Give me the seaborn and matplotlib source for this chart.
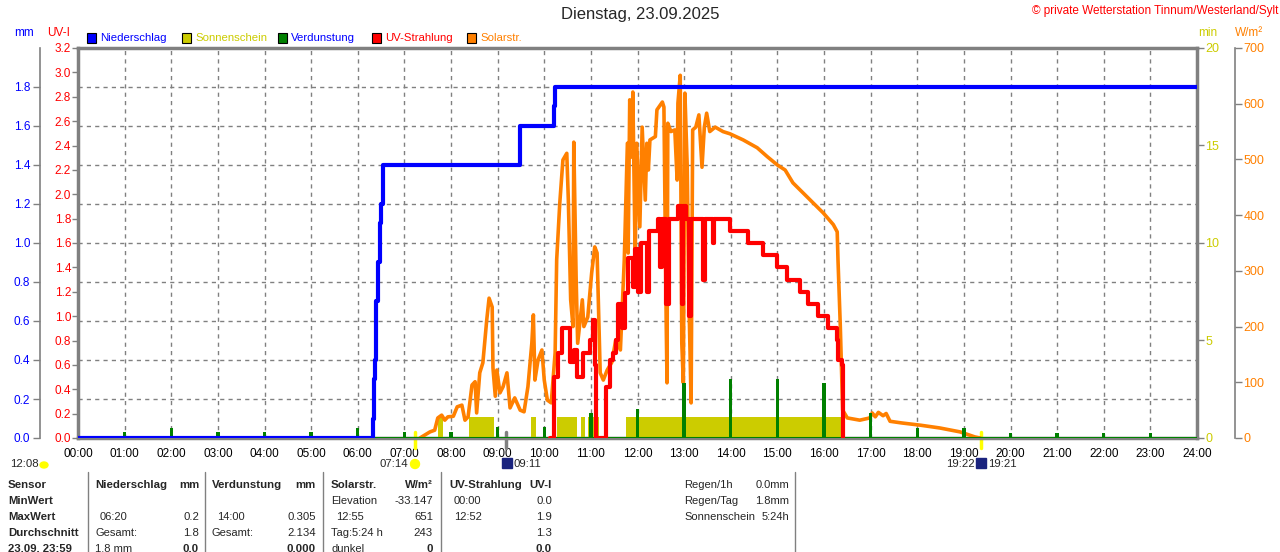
import numpy as np
import matplotlib
matplotlib.use("Agg")
import matplotlib.pyplot as plt
import matplotlib.patches as mpatches
from matplotlib.transforms import blended_transform_factory
import seaborn as sns

# ---- Messwerte 23.09.2025 ----
# Niederschlag (Tagessumme, mm)
rain_time = ["00:00", "06:19", "06:21", "06:22", "06:24", "06:26", "06:28", "06:30",
             "06:33", "09:29", "10:12", "10:14", "24:00"]
rain_mm = [0.0, 0.1, 0.3, 0.4, 0.7, 0.9, 1.1, 1.2, 1.4, 1.6, 1.7, 1.8, 1.8]

# Sonnenschein (min), Abschnitte mit Sonne
sun_start = ["07:43", "08:23", "09:43", "10:16", "10:47", "10:56", "11:45"]
sun_end = ["07:50", "08:55", "09:49", "10:42", "10:52", "11:10", "16:23"]
sun_min = [1.1, 1.1, 1.1, 1.1, 1.1, 1.1, 1.1]

# Verdunstung (mm) je Stunde
evap_hour = list(range(1, 24))
evap_mm = [0.03, 0.05, 0.03, 0.03, 0.03, 0.05, 0.03, 0.03, 0.055, 0.055, 0.13, 0.15,
           0.28, 0.305, 0.30, 0.28, 0.13, 0.05, 0.05, 0.026, 0.026, 0.026, 0.026]

# UV-Strahlung (UV-I), Zeit in Minuten
uv_min = [608, 612, 618, 623, 630, 633, 638, 642, 646, 650, 655, 659, 663, 665, 667,
          678, 680, 685, 688, 692, 695, 700, 704, 708, 714, 717, 721, 725, 730, 732,
          735, 745, 747, 749, 752, 757, 760, 771, 772, 776, 777, 779, 782, 786, 789,
          803, 804, 807, 816, 817, 819, 838, 839, 861, 862, 880, 882, 897, 900, 910,
          912, 927, 929, 938, 939, 951, 952, 964, 965, 974, 977, 978, 983, 984]
uv_val = [0, 0.5, 0.7, 0.9, 0.9, 0.62, 0.72, 0.5, 0.5, 0.7, 0.7, 0.8, 0.97, 0.6, 0,
          0, 0.42, 0.64, 0.7, 0.8, 1.1, 0.9, 1.19, 1.48, 1.24, 1.55, 1.2, 1.6, 1.6, 1.2,
          1.7, 1.7, 1.8, 1.4, 1.8, 1.1, 1.8, 1.8, 1.9, 1.9, 1.1, 1.9, 1.8, 1.0, 1.8,
          1.8, 1.3, 1.8, 1.8, 1.6, 1.8, 1.8, 1.7, 1.7, 1.6, 1.6, 1.5, 1.5, 1.4, 1.4,
          1.3, 1.3, 1.2, 1.2, 1.1, 1.1, 1.0, 1.0, 0.9, 0.9, 0.8, 0.64, 0.6, 0]

# Solarstrahlung (W/m²), Zeit in Minuten
solar_min = [440, 453, 459, 463, 468, 472, 476, 483, 488, 494, 498, 502, 507, 511, 513,
             517, 521, 526, 529, 533, 534, 537, 539, 543, 547, 552, 556, 562, 569, 574,
             579, 584, 586, 588, 592, 597, 600, 604, 609, 614, 616, 620, 624, 629, 631,
             634, 637, 638, 641, 643, 649, 651, 656, 661, 665, 668, 672, 676, 681, 687,
             692, 698, 703, 707, 708, 710, 713, 714, 717, 719, 723, 726, 730, 732, 734,
             736, 743, 745, 752, 754, 757, 758, 759, 763, 768, 771, 772, 775, 777, 779,
             781, 784, 786, 789, 791, 795, 799, 803, 806, 809, 813, 820, 830, 839, 856,
             874, 887, 900, 910, 920, 933, 946, 959, 972, 977, 978, 981, 984, 990, 1006,
             1019, 1022, 1026, 1030, 1036, 1040, 1045, 1060, 1084, 1109, 1135, 1154, 1161]
solar_w = [0, 11, 14, 36, 41, 32, 38, 39, 56, 59, 32, 38, 95, 101, 45,
           117, 135, 212, 251, 235, 126, 75, 122, 81, 92, 117, 54, 72, 50, 47,
           92, 170, 221, 104, 140, 158, 104, 68, 63, 153, 320, 422, 499, 511, 427,
           248, 200, 531, 289, 170, 248, 200, 217, 296, 343, 332, 117, 104, 122, 136,
           176, 158, 320, 529, 332, 607, 504, 621, 320, 529, 379, 558, 427, 529, 481,
           535, 541, 589, 603, 594, 200, 99, 565, 550, 553, 463, 601, 651, 170, 99,
           619, 486, 260, 63, 553, 558, 580, 486, 558, 583, 550, 558, 550, 546, 535,
           521, 505, 490, 481, 458, 440, 422, 404, 383, 370, 320, 200, 50, 36, 32,
           36, 45, 38, 46, 40, 44, 30, 27, 23, 18, 11, 2, 0]

hour_labels = [f"{h:02d}:00" for h in range(25)]


def to_h(t):
    hh, mm = t.split(":")
    return int(hh) + int(mm) / 60


BLUE = "#0000ff"
RED = "#ff0000"
ORANGE = "#ff8000"
OLIVE = "#cccc00"
GREEN = "#008000"
GREY = "#808080"

sns.set_style("white")
plt.rcParams["font.family"] = ["Liberation Sans Narrow", "Liberation Sans", "DejaVu Sans"]
plt.rcParams["font.size"] = 8

W, H = 1280, 552
fig = plt.figure(figsize=(12.8, 5.52), dpi=100)
OUT = 38 * 72 / 100  # 38 px Abstand, in Punkt


def fx(x):
    return x / W


def fy(y):
    return 1 - y / H


L, R, T, B = 78, 1197, 48, 438
ax = fig.add_axes([fx(L), fy(B), fx(R - L), (B - T) / H])

# Grundachse: Zeit + UV-I Skala
ax.set_xlim(0, 24)
ax.set_ylim(0, 3.2)
ax.set_xticks(range(25))
ax.set_xticklabels(hour_labels)
uv_ticks = np.round(np.arange(0, 3.21, 0.2), 1)
ax.set_yticks(uv_ticks)
ax.set_yticklabels([f"{v:.1f}" for v in uv_ticks])
ax.tick_params(axis="x", colors=GREY, labelcolor="black", length=5, width=1, pad=2,
               labelsize=8.5)
ax.tick_params(axis="y", colors=GREY, labelcolor=RED, length=4, width=1, pad=1,
               labelsize=8.5)
ax.grid(axis="x", color=GREY, ls=(0, (3, 3)), lw=1)
for s in ax.spines.values():
    s.set_color(GREY)
    s.set_linewidth(2.5)

# mm-Skala links außen
ax_mm = ax.twinx()
ax_mm.yaxis.tick_left()
ax_mm.set_ylim(0, 2.0)
mm_ticks = np.round(np.arange(0, 1.81, 0.2), 1)
ax_mm.set_yticks(mm_ticks)
ax_mm.set_yticklabels([f"{v:.1f}" for v in mm_ticks])
ax_mm.tick_params(axis="y", colors=GREY, labelcolor=BLUE, length=5, width=1, pad=2,
                  labelsize=8.5)
for k, s in ax_mm.spines.items():
    s.set_visible(k == "left")
ax_mm.spines["left"].set_position(("outward", OUT))
ax_mm.spines["left"].set_color(GREY)
ax_mm.spines["left"].set_linewidth(1.2)
ax_mm.grid(axis="y", color=GREY, ls=(0, (3, 3)), lw=1)

# Sonnenschein (min) rechts
ax_min = ax.twinx()
ax_min.set_ylim(0, 20)
ax_min.set_yticks([0, 5, 10, 15, 20])
ax_min.tick_params(axis="y", colors=GREY, labelcolor=OLIVE, length=5, width=1, pad=1,
                   labelsize=9)
for s in ax_min.spines.values():
    s.set_visible(False)
sun_left = [to_h(t) for t in sun_start]
sun_width = [to_h(e) - to_h(s) for s, e in zip(sun_start, sun_end)]
ax_min.bar(sun_left, sun_min, width=sun_width, align="edge", color=OLIVE, lw=0)

# Solarstrahlung W/m² rechts außen
ax_w = ax.twinx()
ax_w.set_ylim(0, 700)
ax_w.set_yticks(range(0, 701, 100))
ax_w.tick_params(axis="y", colors=GREY, labelcolor=ORANGE, length=5, width=1, pad=1,
                 labelsize=9)
for k, s in ax_w.spines.items():
    s.set_visible(k == "right")
ax_w.spines["right"].set_position(("outward", OUT))
ax_w.spines["right"].set_color(GREY)
ax_w.spines["right"].set_linewidth(1.2)
sns.lineplot(x=np.array(solar_min) / 60, y=solar_w, ax=ax_w, color=ORANGE, lw=2.6,
             estimator=None, sort=False)
ax_w.set_ylim(0, 700)


def hidden_twin(lim):
    a = ax.twinx()
    a.set_ylim(*lim)
    a.yaxis.set_visible(False)
    for s in a.spines.values():
        s.set_visible(False)
    return a


# Verdunstung
ax_ev = hidden_twin((0, 2.0))
ax_ev.axhline(0, color=GREEN, lw=1.5)
ax_ev.bar(evap_hour, evap_mm, width=0.07, color=GREEN, lw=0)
ax_ev.set_ylim(0, 2.0)

# UV-Strahlung
ax_uv = hidden_twin((0, 3.2))
sns.lineplot(x=np.array(uv_min) / 60, y=uv_val, ax=ax_uv, color=RED, lw=3,
             estimator=None, sort=False, drawstyle="steps-post")
ax_uv.set_ylim(0, 3.2)

# Niederschlag
ax_rain = hidden_twin((0, 2.0))
sns.lineplot(x=[to_h(t) for t in rain_time], y=rain_mm, ax=ax_rain, color=BLUE, lw=3,
             estimator=None, sort=False, drawstyle="steps-post")
ax_rain.set_ylim(0, 2.0)

for a in (ax_mm, ax_min, ax_w, ax_ev, ax_uv, ax_rain):
    a.set_xlim(0, 24)
    a.set_xlabel("")
    a.set_ylabel("")

# Sonnenauf-/untergang, Mond
tr = blended_transform_factory(ax.transData, ax.transAxes)
for t, c in [("07:14", "#ffff00"), ("19:22", "#ffff00"), ("09:11", GREY)]:
    ax.plot([to_h(t)] * 2, [-0.025, 0.015], color=c, lw=2.5, transform=tr, clip_on=False)

# Titel & Beschriftungen
fig.text(0.5, fy(15), "Dienstag, 23.09.2025", ha="center", va="center", fontsize=12)
fig.text(fx(1278), fy(11), "© private Wetterstation Tinnum/Westerland/Sylt",
         ha="right", va="center", color=RED, fontsize=8.5)
fig.text(fx(14), fy(33), "mm", color=BLUE, va="center", fontsize=8.5)
fig.text(fx(47), fy(33), "UV-I", color=RED, va="center", fontsize=8.5)
fig.text(fx(1198), fy(33), "min", color=OLIVE, va="center", fontsize=8.5)
fig.text(fx(1235), fy(33), "W/m²", color=ORANGE, va="center", fontsize=8.5)

legend = [("Niederschlag", BLUE, BLUE, 87), ("Sonnenschein", OLIVE, OLIVE, 182),
          ("Verdunstung", GREEN, BLUE, 278), ("UV-Strahlung", RED, RED, 372),
          ("Solarstr.", ORANGE, ORANGE, 467)]
for name, box, txt, x0 in legend:
    fig.patches.append(mpatches.Rectangle((fx(x0), fy(43)), fx(9), 10 / H, facecolor=box,
                                          edgecolor="black", lw=0.8,
                                          transform=fig.transFigure))
    fig.text(fx(x0 + 13), fy(38), name, color=txt, va="center", fontsize=8.2)

# Zeiten unter der Achse
fig.text(fx(10), fy(464), "12:08", va="center", fontsize=8.2)
fig.text(fx(408), fy(464), "07:14", va="center", ha="right", fontsize=8.2)
fig.text(fx(513), fy(464), "09:11", va="center", fontsize=8.2)
fig.text(fx(975), fy(464), "19:22", va="center", ha="right", fontsize=8.2)
fig.text(fx(988), fy(464), "19:21", va="center", fontsize=8.2)
fig.patches.append(mpatches.Ellipse((fx(44), fy(465)), 8 / W, 6 / H, color="#ffff00",
                                    transform=fig.transFigure))
fig.patches.append(mpatches.Ellipse((fx(415), fy(464)), 9 / W, 9 / H, color="#ffff00",
                                    transform=fig.transFigure))
for x0 in (502, 976):
    fig.patches.append(mpatches.Rectangle((fx(x0), fy(468)), fx(10), 10 / H,
                                          color="#1a237e", transform=fig.transFigure))

# Tabelle
rows_y = [485, 501, 517, 533, 549]
for y, s in zip(rows_y, ["Sensor", "MinWert", "MaxWert", "Durchschnitt", "23.09. 23:59"]):
    fig.text(fx(8), fy(y), s, va="center", fontweight="bold", fontsize=8.2)
for x0 in (88, 205, 323, 441, 795):
    fig.add_artist(plt.Line2D([fx(x0)] * 2, [fy(472), 0], color=GREY, lw=1))

cols = [
    (95, 199, ("Niederschlag", "mm"),
     [None, ("06:20", "0.2"), ("Gesamt:", "1.8"), ("1.8 mm", "0.0")]),
    (212, 316, ("Verdunstung", "mm"),
     [None, ("14:00", "0.305"), ("Gesamt:", "2.134"), ("", "0.000")]),
    (331, 433, ("Solarstr.", "W/m²"),
     [("Elevation", "-33.147"), ("12:55", "651"), ("Tag:5:24 h", "243"), ("dunkel", "0")]),
    (449, 552, ("UV-Strahlung", "UV-I"),
     [("00:00", "0.0"), ("12:52", "1.9"), ("", "1.3"), ("", "0.0")]),
]
for xl, xr, head, cells in cols:
    fig.text(fx(xl), fy(rows_y[0]), head[0], va="center", fontweight="bold", fontsize=8.2)
    fig.text(fx(xr), fy(rows_y[0]), head[1], va="center", ha="right", fontweight="bold",
             fontsize=8.2)
    for i, cell in enumerate(cells):
        if cell is None:
            continue
        y = rows_y[i + 1]
        last = i == 3
        indent = 5 if (cell[0][:1].isdigit() and not last) else 0
        fig.text(fx(xl + indent), fy(y), cell[0], va="center", fontsize=8)
        fig.text(fx(xr), fy(y), cell[1], va="center", ha="right", fontsize=8.2,
                 fontweight="bold" if last else "normal")

for y, (k, v) in zip(rows_y[:3], [("Regen/1h", "0.0mm"), ("Regen/Tag", "1.8mm"),
                                  ("Sonnenschein", "5:24h")]):
    fig.text(fx(684), fy(y), k, va="center", fontsize=8)
    fig.text(fx(789), fy(y), v, va="center", ha="right", fontsize=8)

fig.savefig("out.png", dpi=100)
